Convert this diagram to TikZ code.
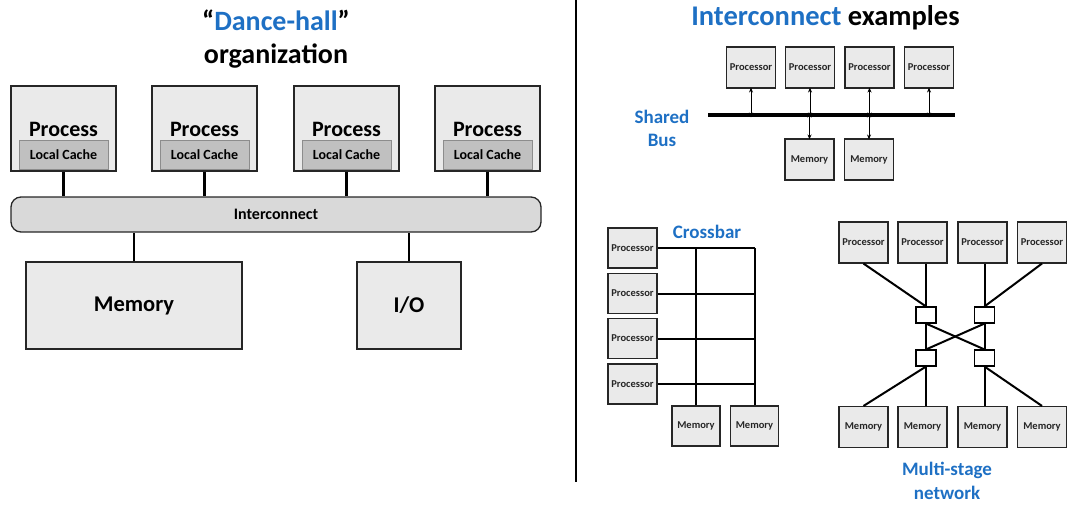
\documentclass[tikz,border=0pt]{standalone}
\usepackage{fontspec}
\setmainfont{Carlito}
\usetikzlibrary{arrows.meta}
\definecolor{tblue}{RGB}{30,112,196}
\definecolor{boxfill}{RGB}{234,234,234}
\definecolor{cachefill}{RGB}{192,192,192}
\definecolor{icfill}{RGB}{217,217,217}
\begin{document}
\begin{tikzpicture}[x=1pt,y=-1pt,
  box/.style={draw=black!85, line width=1.3pt, fill=boxfill, inner sep=0pt},
  cachebox/.style={draw=black!45, line width=1pt, fill=cachefill, inner sep=0pt, minimum width=89pt, minimum height=29pt, font=\bfseries\fontsize{14}{16}\selectfont},
  conn/.style={line width=2.4pt, black},
  sconn/.style={line width=2pt, black},
  sbox/.style={box, line width=1.1pt, minimum width=49pt, minimum height=41pt, font=\bfseries\fontsize{10.5}{12}\selectfont, text=black!85},
  sw/.style={draw=black, line width=1.1pt, fill=white, minimum width=20pt, minimum height=16pt, inner sep=0pt},
  darr/.style={{Stealth[length=5pt,width=4pt]}-{Stealth[length=5pt,width=4pt]}, line width=1pt},
  bluelbl/.style={text=tblue, font=\bfseries\fontsize{19}{23.5}\selectfont, align=center, inner sep=0pt},
  title/.style={font=\bfseries\fontsize{28}{36}\selectfont, align=center, inner sep=0pt}
]
\useasboundingbox (0,0) rectangle (1088,507);

% ---------- Left: Dance-hall ----------
\node[title] (t1) at (276,20) {“\textcolor{tblue}{Dance-hall}”};
\node[title] (t2) at (276,56) {organization};

\foreach \i/\x in {1/63.5,2/204.5,3/346.5,4/487.5}{
  \node[box, minimum width=105pt, minimum height=85pt] (p\i) at (\x,128.5) {};
  \node[inner sep=0pt, font=\bfseries\fontsize{22}{24}\selectfont] (pt\i) at (\x,129) {Process};
  \node[cachebox] (c\i) at (\x,154.5) {Local Cache};
}
\node[draw=black!85, line width=1.3pt, fill=icfill, rounded corners=10pt, minimum width=530pt, minimum height=35pt, inner sep=0pt, font=\bfseries\fontsize{16}{18}\selectfont] (ic) at (276,214.5) {Interconnect};
\foreach \i in {1,2,3,4}{
  \draw[conn] (p\i.south) -- (p\i.south |- ic.north);
}
\node[box, minimum width=216pt, minimum height=87pt, font=\bfseries\fontsize{22.5}{24}\selectfont] (mem) at (134,305.5) {Memory};
\node[box, minimum width=104pt, minimum height=87pt, font=\bfseries\fontsize{22.5}{24}\selectfont] (io) at (409,305.5) {I/O};
\draw[conn] (mem.north) -- (mem.north |- ic.south);
\draw[conn] (io.north) -- (io.north |- ic.south);

% divider
\coordinate (dtop) at (576,0);
\coordinate (dbot) at (576,482);
\draw[line width=1.8pt] (dtop) -- (dbot);

% ---------- Right: title ----------
\node[title, font=\bfseries\fontsize{28.5}{36}\selectfont] (t3) at (825.5,18) {\textcolor{tblue}{Interconnect} examples};

% ---------- Shared bus ----------
\foreach \i/\x in {1/751,2/810,3/869.5,4/929}{
  \node[sbox] (sp\i) at (\x,67.5) {Processor};
}
\coordinate (busL) at (708,115);
\coordinate (busR) at (955,115);
\draw[line width=4.2pt] (busL) -- (busR);
\node[sbox] (sm1) at (809.5,159.5) {Memory};
\node[sbox] (sm2) at (869,159.5) {Memory};
\foreach \i in {1,2,3,4}{
  \draw[darr] ([yshift=1pt]sp\i.south) -- ([yshift=-2.5pt]sp\i.south |- busL);
}
\draw[darr] ([yshift=2.5pt]sm1.north |- busL) -- ([yshift=-1pt]sm1.north);
\draw[darr] ([yshift=2.5pt]sm2.north |- busL) -- ([yshift=-1pt]sm2.north);
\node[bluelbl] (sbl) at (662,128.5) {Shared\\Bus};

% ---------- Crossbar ----------
\foreach \i/\y in {1/248,2/293.5,3/338.5,4/384}{
  \node[sbox, minimum height=40pt] (cp\i) at (632.5,\y) {Processor};
}
\node[sbox, minimum width=48pt, minimum height=40pt] (cm1) at (696,426) {Memory};
\node[sbox, minimum width=48pt, minimum height=40pt] (cm2) at (754.5,426) {Memory};
\foreach \i in {1,2,3,4}{
  \draw[sconn] (cp\i.east) -- (cp\i.east -| cm2.north);
}
\draw[sconn] (cm1.north) -- (cm1.north |- cp1.east);
\draw[sconn] (cm2.north) -- (cm2.north |- cp1.east);
\node[bluelbl] (xbl) at (707,232) {Crossbar};

% ---------- Multi-stage ----------
\foreach \i/\x in {1/863.5,2/922.5,3/982.5,4/1042}{
  \node[sbox] (mp\i) at (\x,242.5) {Processor};
  \node[sbox] (mm\i) at (\x,427) {Memory};
}
\node[sw] (s1) at (926,315) {};
\node[sw] (s2) at (984.5,315) {};
\node[sw] (s3) at (926,358) {};
\node[sw] (s4) at (984.5,358) {};
\draw[sconn] (mp1.south) -- (s1.north);
\draw[sconn] (s1.north |- mp2.south) -- (s1.north);
\draw[sconn] (s2.north |- mp3.south) -- (s2.north);
\draw[sconn] (mp4.south) -- (s2.north);
\draw[sconn] (s1.south) -- (s3.north);
\draw[sconn] (s2.south) -- (s4.north);
\draw[sconn] (s1.south) -- (s4.north);
\draw[sconn] (s2.south) -- (s3.north);
\draw[sconn] (s3.south) -- (mm1.north);
\draw[sconn] (s3.south) -- (s3.south |- mm2.north);
\draw[sconn] (s4.south) -- (s4.south |- mm3.north);
\draw[sconn] (s4.south) -- (mm4.north);
\node[bluelbl] (msl) at (947,481) {Multi-stage\\network};
\end{tikzpicture}
\end{document}
